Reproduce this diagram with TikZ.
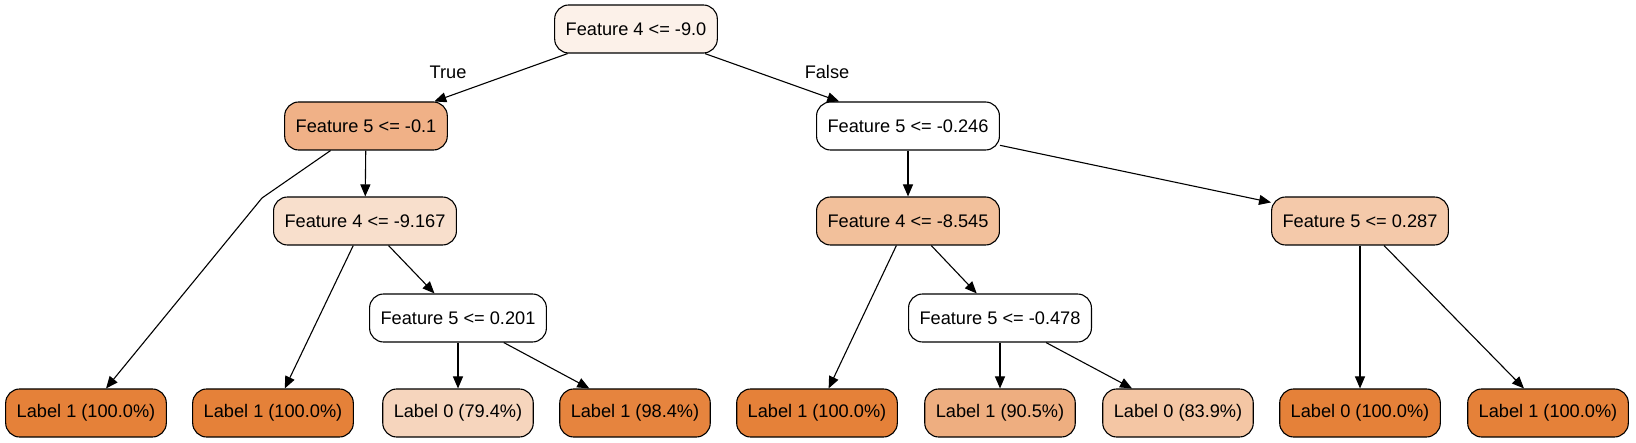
\documentclass[tikz,border=0pt]{standalone}
\usepackage{fontspec}
\setmainfont{Liberation Sans}
\usepackage{tikz}
\usetikzlibrary{arrows.meta}
\usetikzlibrary{positioning}
\definecolor{tree-full}{HTML}{E58139}
\definecolor{tree-root}{HTML}{FCF1E9}
\definecolor{tree-a}{HTML}{F0B187}
\definecolor{tree-b}{HTML}{F8DFCC}
\definecolor{tree-c}{HTML}{F2C09B}
\definecolor{tree-d}{HTML}{F4C9AA}
\definecolor{tree-e}{HTML}{F6D5BD}
\definecolor{tree-f}{HTML}{E6843E}
\definecolor{tree-g}{HTML}{EEAE80}
\definecolor{tree-h}{HTML}{F4C6A4}

\tikzset{
    treebox/.style={draw, line width=1.1pt, rounded corners=14pt,
        inner xsep=11pt, minimum height=48pt,
        font=\fontsize{18.2}{22}\selectfont},
    edgetext/.style={font=\fontsize{18.2}{22}\selectfont}
}

\begin{document}
\begin{tikzpicture}[x=1pt, y=-1pt]

    % canvas
    \useasboundingbox (0,0) rectangle (1636,443);

    % split nodes
    \begin{scope}[every node/.style={treebox}]
        \node[fill=tree-root] (n0) at (636,29) {Feature 4 <= -9.0};
        \node[fill=tree-a] (n1) at (366,126) {Feature 5 <= -0.1};
        \node[fill=white] (n2) at (908,126) {Feature 5 <= -0.246};
        \node[fill=tree-b] (n3) at (365,221) {Feature 4 <= -9.167};
        \node[fill=tree-c] (n4) at (908,221) {Feature 4 <= -8.545};
        \node[fill=tree-d] (n5) at (1360,221) {Feature 5 <= 0.287};
        \node[fill=white] (n6) at (458,318) {Feature 5 <= 0.201};
        \node[fill=white] (n7) at (1000,318) {Feature 5 <= -0.478};
    \end{scope}

    % leaves
    \begin{scope}[every node/.style={treebox}]
        \node[fill=tree-full] (l1) at (86,413) {Label 1 (100.0\%)};
        \node[fill=tree-full] (l2) at (273,413) {Label 1 (100.0\%)};
        \node[fill=tree-e] (l3) at (458,413) {Label 0 (79.4\%)};
        \node[fill=tree-f] (l4) at (635,413) {Label 1 (98.4\%)};
        \node[fill=tree-full] (l5) at (817,413) {Label 1 (100.0\%)};
        \node[fill=tree-g] (l6) at (1000,413) {Label 1 (90.5\%)};
        \node[fill=tree-h] (l7) at (1178,413) {Label 0 (83.9\%)};
        \node[fill=tree-full] (l8) at (1360,413) {Label 0 (100.0\%)};
        \node[fill=tree-full] (l9) at (1548,413) {Label 1 (100.0\%)};
    \end{scope}

    % branch labels
    \node[edgetext] (yes) at (448,72) {True};
    \node[edgetext] (no) at (827,72) {False};

    % bend of the long edge
    \coordinate (kink) at (262,198);

    % edges
    \begin{scope}[every edge/.style={draw, line width=1.1pt, -{Triangle[length=12pt, width=10pt]}}]
        \path (n0) edge (n1);
        \path (n0) edge (n2);
        \path (n1) edge (n3);
        \path (n2) edge (n4);
        \path (n2) edge (n5);
        \path (n3) edge (l2);
        \path (n3) edge (n6);
        \path (n4) edge (l5);
        \path (n4) edge (n7);
        \path (n5) edge (l8);
        \path (n5) edge (l9);
        \path (n6) edge (l3);
        \path (n6) edge (l4);
        \path (n7) edge (l6);
        \path (n7) edge (l7);
        \path (kink) edge (l1);
    \end{scope}
    \draw[line width=1.1pt] (n1) -- (kink);

\end{tikzpicture}
\end{document}
